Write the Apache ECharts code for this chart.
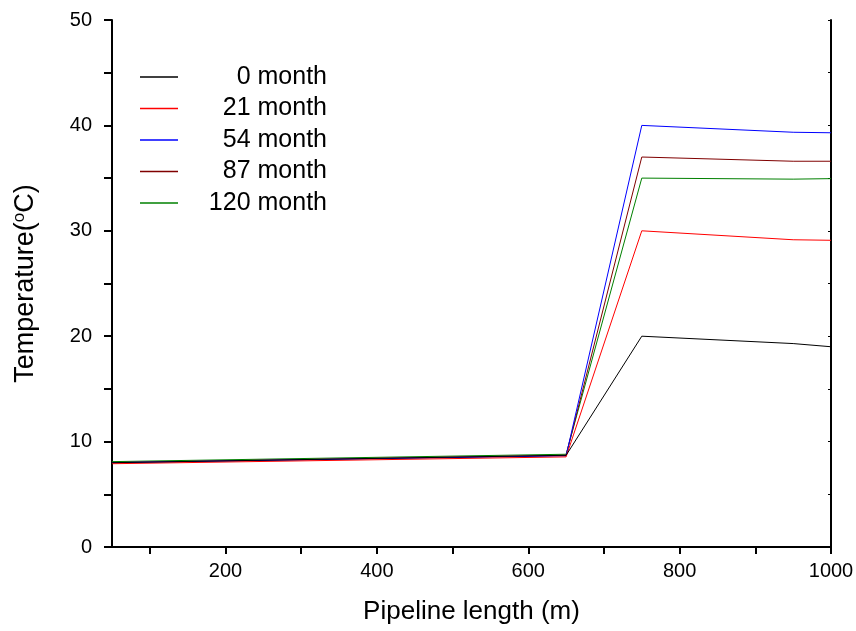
<!DOCTYPE html>
<html>
<head>
<meta charset="utf-8">
<script src="https://cdn.jsdelivr.net/npm/echarts@6/dist/echarts.min.js"></script>
<style>
html,body{margin:0;padding:0;background:#fff;}
#chart{width:856px;height:631px;}
</style>
</head>
<body>
<div id="chart"></div>
<script>
// Pipeline positions (m) at which temperatures are sampled
const lengths = [50, 650, 750, 950, 1000];

// Temperature (°C) along the pipeline for each service time
const month0   = [8.0, 8.7, 20.0, 19.3, 19.0];
const month21  = [7.9, 8.55, 30.0, 29.15, 29.1];
const month54  = [8.0, 8.65, 40.0, 39.35, 39.3];
const month87  = [8.0, 8.7, 37.0, 36.6, 36.6];
const month120 = [8.1, 8.8, 35.0, 34.9, 34.95];

const seriesNames = ['0 month', '21 month', '54 month', '87 month', '120 month'];
const seriesData = [month0, month21, month54, month87, month120];
const seriesColors = ['#000000', '#ff0000', '#0000ff', '#800000', '#008000'];

const xTicks = [100, 200, 300, 400, 500, 600, 700, 800, 900, 1000];
const xLabels = [200, 400, 600, 800, 1000];
const yLabels = [0, 10, 20, 30, 40, 50];

const FONT = 'Liberation Sans, Arial, sans-serif';

const chart = echarts.init(document.getElementById('chart'), null, {renderer: 'canvas'});

const series = seriesNames.map((name, i) => ({
  name: name,
  type: 'line',
  symbol: 'none',
  data: lengths.map((x, j) => [x, seriesData[i][j]]),
  lineStyle: {color: seriesColors[i], width: 1},
  itemStyle: {color: seriesColors[i]},
  z: 10 - i
}));

const axisLine = {show: true, lineStyle: {color: '#000', width: 2}};

chart.setOption({
  backgroundColor: '#fff',
  animation: false,
  grid: {left: 112, right: 25, top: 20, bottom: 84, containLabel: false, outerBoundsMode: 'none'},
  legend: {
    show: true,
    orient: 'vertical',
    left: 140,
    top: 64.5,
    padding: 0,
    itemWidth: 38,
    itemHeight: 1.3,
    itemGap: 6.5,
    icon: 'rect',
    data: seriesNames.map((n, i) => ({name: n, itemStyle: {color: seriesColors[i]}})),
    formatter: name => '{r|' + name + '}',
    textStyle: {
      fontFamily: FONT, fontSize: 25, color: '#000',
      rich: {r: {fontFamily: FONT, fontSize: 25, lineHeight: 25, color: '#000', width: 144, align: 'right'}}
    }
  },
  xAxis: [{
    type: 'value',
    min: 50,
    max: 1000,
    position: 'bottom',
    name: 'Pipeline length (m)',
    nameLocation: 'middle',
    nameGap: 52,
    nameTextStyle: {fontFamily: FONT, fontSize: 26, color: '#000'},
    axisLine: axisLine,
    axisTick: {show: true, inside: false, length: 7, lineStyle: {color: '#000', width: 2},
      customValues: xTicks},
    axisLabel: {
      fontFamily: FONT, fontSize: 20, color: '#000', margin: 14,
      customValues: xLabels,
      formatter: v => String(v)
    },
    splitLine: {show: false}
  }, {
    type: 'value',
    min: 50,
    max: 1000,
    position: 'top',
    axisLine: axisLine,
    axisTick: {show: true, inside: true, length: 3, lineStyle: {color: '#000', width: 1},
      customValues: xTicks},
    axisLabel: {show: false},
    splitLine: {show: false}
  }],
  yAxis: [{
    type: 'value',
    min: 0,
    max: 50,
    interval: 5,
    position: 'left',
    name: '{a|Temperature(}{s|o}{a|C)}',
    nameLocation: 'middle',
    nameGap: 72,
    nameTextStyle: {
      rich: {
        a: {fontFamily: FONT, fontSize: 27, color: '#000'},
        s: {fontFamily: FONT, fontSize: 17, color: '#000', verticalAlign: 'top', padding: [0, 0, 12, 0]}
      }
    },
    axisLine: axisLine,
    axisTick: {show: true, inside: false, length: 8, lineStyle: {color: '#000', width: 2}},
    axisLabel: {
      fontFamily: FONT, fontSize: 20, color: '#000', margin: 20,
      customValues: yLabels,
      formatter: v => String(v)
    },
    splitLine: {show: false}
  }, {
    type: 'value',
    min: 0,
    max: 50,
    interval: 5,
    position: 'right',
    axisLine: axisLine,
    axisTick: {show: true, inside: true, length: 3, lineStyle: {color: '#000', width: 1}},
    axisLabel: {show: false},
    splitLine: {show: false}
  }],
  series: series
});
</script>
</body>
</html>
